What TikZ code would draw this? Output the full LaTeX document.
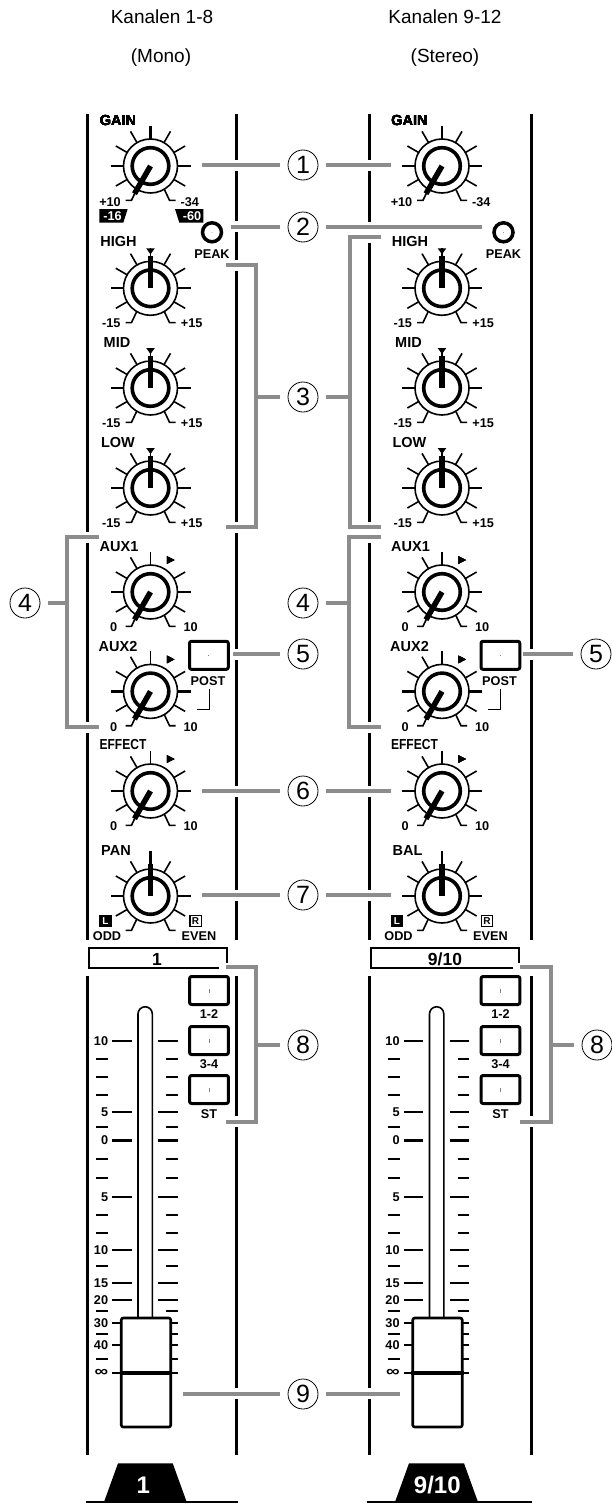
\documentclass[tikz,border=0pt]{standalone}
\usepackage{fontspec}
\setmainfont{Liberation Sans}
\usetikzlibrary{positioning,calc,arrows.meta}
\definecolor{leadgray}{RGB}{140,140,140}
\tikzset{
	rail/.style={line width=3pt,color=black},
	leader/.style={line width=3.6pt,color=leadgray,shorten >=8pt},
	bracket/.style={line width=3.6pt,color=leadgray,line join=miter},
	callout/.style={circle,draw,line width=.8pt,inner sep=0,minimum size=30pt,font=\fontsize{25}{25}\selectfont},
	title/.style={font=\fontsize{19}{21}\selectfont},
	knoblab/.style={font=\fontsize{14.5}{15}\selectfont\bfseries,inner sep=0},
	namelab/.style={font=\fontsize{17.5}{18}\selectfont\bfseries,inner sep=0},
	smalllab/.style={font=\fontsize{12.7}{13}\selectfont\bfseries,inner sep=0},
	wlab/.style={smalllab,text=white},
	bigwlab/.style={font=\fontsize{24}{25}\selectfont\bfseries,text=white,inner sep=0},
	tick/.style={line width=1.6pt},
	maintick/.style={line width=2.2pt},
	thinring/.style={line width=1.6pt},
	boldring/.style={line width=3.6pt},
	pointer/.style={line width=5.5pt},
	scaletick/.style={line width=1.6pt},
	btn/.style={rectangle,rounded corners=2pt,draw,line width=3pt,fill=white,minimum width=38.8pt,minimum height=28pt,inner sep=0},
	handle/.style={rectangle,rounded corners=2pt,draw,line width=2.6pt,fill=white,minimum width=49.5pt,minimum height=109pt,inner sep=0},
	pt/.style={line width=1pt,color=gray}
}
% name, x, y, tick angles, pointer angle
\newcommand{\knob}[5]{
	\coordinate (#1) at (#2,#3);
	\foreach \a in {#4} \draw[tick] (#1) ++(\a:27pt) -- ++(\a:13pt);
	\foreach \a in {0,180} \draw[maintick] (#1) ++(\a:27pt) -- ++(\a:13pt);
	\draw[tick] (#1) ++(-14pt,-23.7pt) -- ++(-5pt,-10.6pt) -- ++(-6pt,0pt);
	\draw[tick] (#1) ++(14pt,-23.7pt) -- ++(5pt,-10.6pt) -- ++(6pt,0pt);
	\draw[thinring] (#1) circle[radius=27pt];
	\draw[boldring] (#1) circle[radius=18.3pt];
	\draw[pointer] (#1) -- ++(#5:32pt);
}
\newcommand{\highmark}[1]{\fill (#1) ++(-4.3pt,40pt) -- ++(8.6pt,0pt) -- ++(-4.3pt,-6pt) -- cycle;}
\newcommand{\sidemark}[1]{\fill (#1) ++(16.3pt,36pt) -- ++(0pt,-8pt) -- ++(7.7pt,4pt) -- cycle;}
\begin{document}
\begin{tikzpicture}[x=1pt,y=-1pt]
	\useasboundingbox (0,0) rectangle (611,1504);
	
	%%%% titles
	\node[title] (t1) at (162,17) {Kanalen 1-8};
	\node[title] (t2) at (161,58) {(Mono)};
	\node[title] (t3) at (445,17) {Kanalen 9-12};
	\node[title] (t4) at (445,58) {(Stereo)};
	
	%%%% rails
	\foreach \x/\ya/\yb in {87/114/532,87/543/722,87/733/940,87/976/1455,
		236/114/160,236/171/221,236/232/260,236/271/522,236/533/649,236/660/786,236/797/890,236/901/940,236/976/1116,236/1127/1388,236/1399/1455,
		369/114/160,369/171/222,369/243/522,369/543/722,369/733/786,369/797/890,369/901/940,369/976/1388,369/1399/1455,
		531/114/649,531/660/940,531/976/1116,531/1127/1455}
		\draw[rail] (\x,\ya) -- (\x,\yb);
	
	%%%% both channel strips
	\foreach \s/\dx/\panname in {a/0/PAN,b/291.5/BAL}{
		\begin{scope}[xshift=\dx pt]
			%%% knobs
			\knob{gain\s}{150.5}{166}{30,60,90,120,150,210,330}{240}
			\knob{high\s}{150.5}{288.3}{30,60,120,150,210,330,90}{90}
			\knob{mid\s}{150.5}{388}{30,60,120,150,210,330,90}{90}
			\knob{low\s}{150.5}{488}{30,60,120,150,210,330,90}{90}
			\knob{auxa\s}{150.5}{592}{30,90,120,150,210,330}{240}
			\knob{auxb\s}{150.5}{691.4}{30,90,120,150,210,330}{240}
			\knob{eff\s}{150.5}{791}{30,90,120,150,210,330}{240}
			\knob{pan\s}{150.5}{896}{30,60,120,150,210,330}{90}
			\draw[maintick] (gain\s) ++(0,27pt) -- ++(0,13pt);
			\draw[maintick] (pan\s) ++(0,27pt) -- ++(0,18pt);
			\foreach \k in {high,mid,low} \highmark{\k\s}
			\foreach \k in {auxa,auxb,eff} \sidemark{\k\s}
			%%% knob labels
			\node[knoblab] (lgain\s) at (118,120.7) {GAIN};
			\node[knoblab] (lhigh\s) at (118.5,242) {HIGH};
			\node[knoblab] (lmid\s) at (117,342.7) {MID};
			\node[knoblab] (llow\s) at (118,443) {LOW};
			\node[knoblab] (lauxa\s) at (119,547) {AUX1};
			\node[knoblab] (lauxb\s) at (118,647) {AUX2};
			\node[knoblab] (leff\s) at (123,744) {\scalebox{.83}[1]{EFFECT}};
			\node[knoblab] (lpan\s) at (116,850.7) {\panname};
			%%% scale values
			\node[smalllab,anchor=east] (gmin\s) at (121,202) {+10};
			\node[smalllab,anchor=west] (gmax\s) at (180.5,202) {-34};
			\foreach \k/\y in {high/323,mid/423,low/523}{
				\node[smalllab,anchor=east] (\k min\s) at (120.7,\y) {-15};
				\node[smalllab,anchor=west] (\k max\s) at (180.7,\y) {+15};
			}
			\foreach \k/\y in {auxa/627,auxb/727,eff/826}{
				\node[smalllab,anchor=east] (\k min\s) at (117.3,\y) {0};
				\node[smalllab,anchor=west] (\k max\s) at (183.3,\y) {10};
			}
			\node[smalllab] (odd\s) at (107,936) {ODD};
			\node[smalllab] (even\s) at (199,936) {EVEN};
			\node[fill=black,minimum size=12.4pt,inner sep=0,font=\fontsize{10}{10}\selectfont\bfseries,text=white] (lbox\s) at (105.5,921) {L};
			\node[draw,line width=1.2pt,minimum size=11.2pt,inner sep=0,font=\fontsize{10}{10}\selectfont\bfseries] (rbox\s) at (195.5,921) {R};
			%%% peak lamp
			\node[circle,draw,line width=3.5pt,minimum size=19pt,inner sep=0] (peak\s) at (212,232.3) {};
			\fill[gray] (peak\s) circle[radius=.5pt];
			\node[smalllab] (lpeak\s) at (212,254) {PEAK};
			%%% post switch
			\node[btn] (post\s) at (208.9,655.3) {};
			\draw[pt] (post\s) ++(0,-.5pt) -- ++(0,1pt);
			\node[smalllab] (lpost\s) at (208,680.7) {POST};
			\draw[line width=.9pt] (209,689) -- (209,709.3) -- (196.7,709.3);
			%%% assign switches
			\foreach \n/\y/\yl/\t in {one/990.5/1014/1-2,two/1040.5/1064/3-4,three/1089.5/1114/ST}{
				\node[btn] (sw\n\s) at (209,\y) {};
				\draw[pt] (sw\n\s) ++(0,-2pt) -- ++(0,4pt);
				\node[smalllab] (lsw\n\s) at (209,\yl) {\t};
			}
			%%% fader scale
			\foreach[count=\i] \y/\t in {1040.7/10,1111.7/5,1196.7/5,1250/10,1283/15,1300/20,1322.7/30,1345/40}{
				\node[smalllab,anchor=east] (fl\i\s) at (108.3,\y) {\t};
				\draw[scaletick] (112.3,\y) -- (131.7,\y);
				\draw[scaletick] (158.3,\y) -- (177.7,\y);
			}
			\foreach \y in {1059,1077,1095,1126.7,1159,1178,1215,1233,1265.7,1311,1334,1359}{
				\draw[scaletick] (96,\y) -- (108,\y);
				\draw[scaletick] (166,\y) -- (177.7,\y);
			}
			\node[smalllab,anchor=east] (fzero\s) at (108.3,1140.3) {0};
			\draw[line width=3pt] (112.3,1140.3) -- (131.7,1140.3);
			\draw[line width=3pt] (158.3,1140.3) -- (177.7,1140.3);
			\node[smalllab,anchor=east] (finf\s) at (108.3,1372.7) {\scalebox{1.5}[1.2]{∞}};
			\draw[scaletick] (112.3,1372.7) -- (125,1372.7);
			\draw[scaletick] (168,1372.7) -- (177.7,1372.7);
			%%% fader
			\draw[line width=1.6pt] (138,1317) -- (138,1013.9) arc[start angle=180,end angle=0,radius=7.15pt] -- (152.3,1317);
			\node[handle] (fader\s) at (146,1372.5) {};
			\draw[line width=4pt] (fader\s.west) -- (fader\s.east);
		\end{scope}
	}
	
	%%%% db marks, left strip only
	\fill (99.3,209) -- (127.7,209) -- (123.3,222.7) -- (99.3,222.7) -- cycle;
	\fill (175,209) -- (203.3,209) -- (203.3,222.7) -- (179.3,222.7) -- cycle;
	\node[wlab] (dba) at (112.5,216) {-16};
	\node[wlab] (dbb) at (192,216) {-60};
	
	%%%% name strips
	\draw[line width=2pt] (219,968) -- (89.3,968) -- (89.3,948.3) -- (227,948.3) -- (227,962.7);
	\draw[line width=2pt] (513,968) -- (370.7,968) -- (370.7,948.3) -- (519.3,948.3) -- (519.3,962.7);
	\node[namelab] (namea) at (157,959) {1};
	\node[namelab] (nameb) at (445,959) {9/10};
	
	%%%% feet
	\draw[line width=2pt] (86,1502) -- (238,1502);
	\draw[line width=2pt] (367,1502) -- (532,1502);
	\fill (118,1463.3) -- (172.7,1463.3) -- (186.7,1502) -- (104,1502) -- cycle;
	\fill (409,1463.3) -- (464,1463.3) -- (478,1502) -- (395,1502) -- cycle;
	\node[bigwlab] (foota) at (143.3,1485) {1};
	\node[bigwlab] (footb) at (437.3,1485) {9/10};
	
	%%%% callouts
	\foreach \n/\x/\y/\t in {n1/303/165/1,n2/303/227/2,n3/303/397/3,n4/303/603/4,n5/303/654/5,n6/303/791/6,n7/303/895/7,n8/303/1045/8,n9/303/1394/9,
		n4l/25/603/4,n5r/596/654/5,n8r/597/1045/8}
		\node[callout] (\n) at (\x,\y) {\t};
	
	%%%% leaders
	\coordinate (g1) at (202,165);
	\coordinate (g2) at (391,165);
	\coordinate (p1) at (231,227);
	\coordinate (p2) at (482,227);
	\coordinate (e1) at (202,791);
	\coordinate (e2) at (391,791);
	\coordinate (b1) at (202,895);
	\coordinate (b2) at (391,895);
	\coordinate (f1) at (183,1394);
	\coordinate (f2) at (400,1394);
	\coordinate (s1) at (233,654);
	\coordinate (s2) at (523,654);
	\draw[leader] (g1) -- (n1);
	\draw[leader] (g2) -- (n1);
	\draw[leader] (p1) -- (n2);
	\draw[leader] (p2) -- (n2);
	\draw[leader] (e1) -- (n6);
	\draw[leader] (e2) -- (n6);
	\draw[leader] (b1) -- (n7);
	\draw[leader] (b2) -- (n7);
	\draw[leader] (f1) -- (n9);
	\draw[leader] (f2) -- (n9);
	\draw[leader] (s1) -- (n5);
	\draw[leader] (s2) -- (n5r);
	
	%%%% brackets
	\draw[bracket] (226,265) -- (256,265) -- (256,527) -- (226,527);
	\draw[bracket] (381,237) -- (350,237) -- (350,527) -- (381,527);
	\draw[bracket] (99,537) -- (67,537) -- (67,727) -- (99,727);
	\draw[bracket] (381,537) -- (349,537) -- (349,727) -- (381,727);
	\draw[bracket] (226,967) -- (256,967) -- (256,1122) -- (226,1122);
	\draw[bracket] (520,967) -- (551,967) -- (551,1122) -- (520,1122);
	\coordinate (h3a) at (256,397);
	\coordinate (h3b) at (350,397);
	\coordinate (h4a) at (67,603);
	\coordinate (h4b) at (349,603);
	\coordinate (h8a) at (256,1045);
	\coordinate (h8b) at (551,1045);
	\draw[leader] (h3a) -- (n3);
	\draw[leader] (h3b) -- (n3);
	\draw[leader] (h4a) -- (n4l);
	\draw[leader] (h4b) -- (n4);
	\draw[leader] (h8a) -- (n8);
	\draw[leader] (h8b) -- (n8r);
\end{tikzpicture}
\end{document}
